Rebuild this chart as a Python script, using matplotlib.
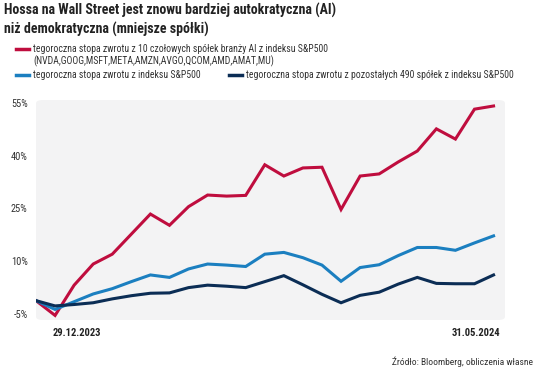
import matplotlib
matplotlib.use("Agg")
import matplotlib.pyplot as plt
from matplotlib.patches import FancyBboxPatch
from matplotlib.lines import Line2D

plt.rcParams['font.family'] = ['Roboto Condensed', 'DejaVu Sans']

# dane (stopa zwrotu w %)
ai_top10 = [-1.2, -5.4, 3.2, 9.2, 12.0, 17.7, 23.4, 20.2, 25.5, 28.8, 28.5, 28.7, 37.4,
            34.2, 36.5, 36.7, 24.7, 34.2, 34.8, 38.2, 41.3, 47.6, 44.7, 53.2, 54.1]
sp500 = [-1.2, -3.7, -1.5, 0.7, 2.2, 4.2, 6.1, 5.4, 7.8, 9.2, 8.9, 8.5, 12.0,
         12.5, 11.0, 8.9, 4.3, 8.2, 9.0, 11.6, 13.9, 13.9, 13.1, 15.2, 17.2]
rest490 = [-1.2, -2.7, -2.3, -1.8, -0.7, 0.2, 0.9, 1.0, 2.5, 3.2, 2.9, 2.5, 4.2,
           5.9, 3.3, 0.6, -1.8, 0.3, 1.2, 3.5, 5.4, 3.7, 3.6, 3.6, 6.1]
yticks = [-5, 10, 25, 40, 55]
date_start = "29.12.2023"
date_end = "31.05.2024"

labels = [
    "tegoroczna stopa zwrotu z 10 czołowych spółek branży AI z indeksu S&P500\n(NVDA,GOOG,MSFT,META,AMZN,AVGO,QCOM,AMD,AMAT,MU)",
    "tegoroczna stopa zwrotu z indeksu S&P500",
    "tegoroczna stopa zwrotu z pozostałych 490 spółek z indeksu S&P500",
]
colors = ["#bf0d3e", "#1b7fc0", "#0b2d55"]

fig = plt.figure(figsize=(5.36, 3.74), dpi=100)
ax = fig.add_axes([36/536, 1 - 320/374, (505 - 36)/536, 220/374])

# tło z zaokrąglonymi rogami
ax.patch.set_visible(False)
bg = FancyBboxPatch((0, 0), 1, 1, boxstyle="round,pad=0,rounding_size=0.015",
                    transform=ax.transAxes, facecolor="#f3f3f4", edgecolor="none", zorder=0)
ax.add_patch(bg)

x = list(range(len(ai_top10)))
for series, c in zip([ai_top10, sp500, rest490], colors):
    ax.plot(x, series, color=c, lw=2.2, solid_joinstyle="miter", zorder=3)

ax.set_xlim(0, 24.6)
ax.set_ylim(-6.7, 55.8)
for s in ax.spines.values():
    s.set_visible(False)
ax.set_xticks([])
ax.set_yticks(yticks)
ax.set_yticklabels([f"{v}%" for v in yticks], color="#333333", fontsize=7.5)
ax.tick_params(axis="y", length=0, pad=6)

# daty pod osią
fig.text(53/536, 1 - 333/374, date_start, ha="left", va="center", fontsize=7.6,
         fontweight="bold", color="#222222")
fig.text(500/536, 1 - 333/374, date_end, ha="right", va="center", fontsize=7.6,
         fontweight="bold", color="#222222")

# tytuł
fig.text(4/536, 1 - 3/374, "Hossa na Wall Street jest znowu bardziej autokratyczna (AI)\nniż demokratyczna (mniejsze spółki)",
         ha="left", va="top", fontsize=10, fontweight="bold", color="#222222", linespacing=1.35)

# legenda
leg_items = [(16, 49, labels[0], colors[0]), (16, 75, labels[1], colors[1]), (229, 75, labels[2], colors[2])]
for lx, ly, txt, c in leg_items:
    yy = 1 - ly/374
    fig.add_artist(Line2D([lx/536, (lx + 13)/536], [yy, yy], color=c, lw=2.5,
                          transform=fig.transFigure))
    fig.text((lx + 17)/536, yy + 0.014, txt, ha="left", va="top", fontsize=7.0,
             color="#333333", linespacing=1.15)

# źródło
fig.text(533/536, 1 - 362/374, "Źródło: Bloomberg, obliczenia własne", ha="right", va="center",
         fontsize=6.8, color="#333333")

fig.savefig("out.png", dpi=100)
